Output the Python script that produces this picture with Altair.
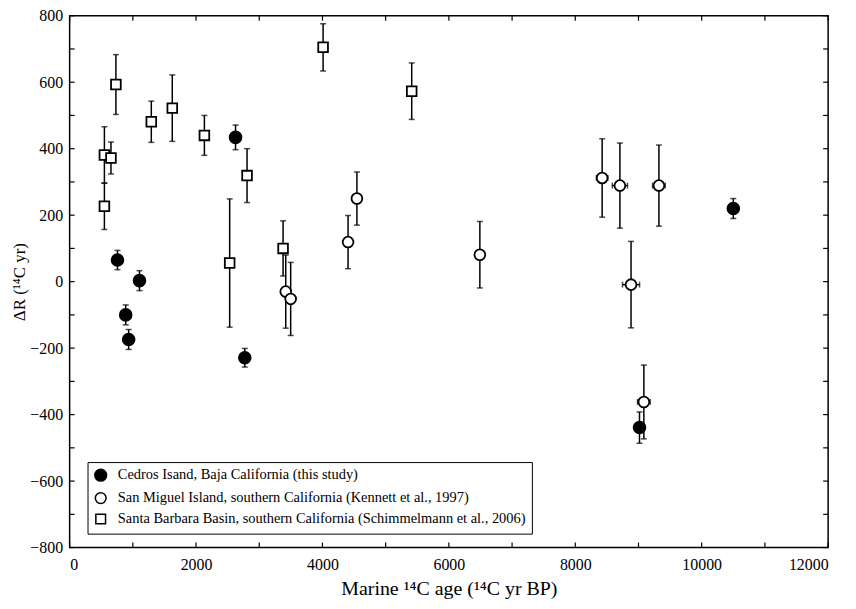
import altair as alt
import pandas as pd

# Cedros Island, Baja California (this study)
ced_x = [757, 1105, 887, 934, 2625, 2771, 9016, 10500]
ced_y = [65, 3, -100, -174, 434, -229, -439, 220]
ced_yerr = [29, 30, 30, 30, 37, 28, 47, 30]

# San Miguel Island, southern California (Kennett et al., 1997)
sm_x = [3419, 3497, 4405, 4545, 6490, 8425, 8706, 9323, 8882, 9085]
sm_y = [-30, -52, 119, 250, 81, 312, 289, 289, -9, -362]
sm_yerr = [110, 110, 80, 80, 100, 118, 128, 122, 130, 111]
sm_xerr = [0, 0, 0, 0, 0, 90, 120, 100, 135, 100]

# Santa Barbara Basin, southern California (Schimmelmann et al., 2006)
sb_x = [550, 654, 550, 732, 1292, 1624, 2132, 2807, 2532, 3377, 4010, 5412]
sb_y = [381, 372, 227, 593, 481, 522, 440, 319, 56, 100, 705, 573]
sb_yerr = [85, 48, 70, 90, 62, 100, 60, 81, 193, 83, 71, 85]

series_names = [
    "Cedros Isand, Baja California (this study)",
    "San Miguel Island, southern California (Kennett  et al., 1997)",
    "Santa Barbara Basin, southern California (Schimmelmann et al., 2006)",
]

x_ticks_major = [0, 2000, 4000, 6000, 8000, 10000, 12000]
x_ticks_minor = list(range(0, 12001, 1000))
y_ticks_major = [-800, -600, -400, -200, 0, 200, 400, 600, 800]
y_ticks_minor = list(range(-800, 801, 100))

rows = []
for xs, ys, ye, xe, name in [
    (ced_x, ced_y, ced_yerr, [0] * len(ced_x), series_names[0]),
    (sm_x, sm_y, sm_yerr, sm_xerr, series_names[1]),
    (sb_x, sb_y, sb_yerr, [0] * len(sb_x), series_names[2]),
]:
    for a, b, e, f in zip(xs, ys, ye, xe):
        rows.append({"series": name, "x": a, "y": b,
                     "lo": b - e, "hi": b + e, "xlo": a - f, "xhi": a + f, "xerr": f})
df = pd.DataFrame(rows)

W, H = 763, 535
FONT = "Liberation Serif"
xs_ = alt.Scale(domain=[0, 12000], nice=False, zero=False)
ys_ = alt.Scale(domain=[-800, 800], nice=False, zero=False)

base = alt.Chart(df)

ybar = base.mark_rule(color="black", strokeWidth=1.5).encode(
    x=alt.X("x:Q", scale=xs_,
            axis=alt.Axis(values=x_ticks_major, format="d", ticks=False, domain=False,
                          grid=False, labelPadding=9, titlePadding=6),
            title="Marine ¹⁴C age (¹⁴C yr BP)"),
    y=alt.Y("lo:Q", scale=ys_,
            axis=alt.Axis(values=y_ticks_major, format="d", ticks=False, domain=False,
                          grid=False, labelPadding=7, titlePadding=1),
            title="ΔR (¹⁴C yr)"),
    y2="hi:Q",
)
cap_lo = base.mark_tick(color="black", orient="horizontal", size=6, thickness=1.5).encode(
    x=alt.X("x:Q", scale=xs_), y=alt.Y("lo:Q", scale=ys_))
cap_hi = base.mark_tick(color="black", orient="horizontal", size=6, thickness=1.5).encode(
    x=alt.X("x:Q", scale=xs_), y=alt.Y("hi:Q", scale=ys_))

xb = base.transform_filter("datum.xerr > 0")
xbar = xb.mark_rule(color="black", strokeWidth=1.5).encode(
    x=alt.X("xlo:Q", scale=xs_), x2="xhi:Q", y=alt.Y("y:Q", scale=ys_))
xcap_lo = xb.mark_tick(color="black", orient="vertical", size=6, thickness=1.5).encode(
    x=alt.X("xlo:Q", scale=xs_), y=alt.Y("y:Q", scale=ys_))
xcap_hi = xb.mark_tick(color="black", orient="vertical", size=6, thickness=1.5).encode(
    x=alt.X("xhi:Q", scale=xs_), y=alt.Y("y:Q", scale=ys_))

leg = alt.Legend(title=None)
pts = base.mark_point(filled=True, strokeWidth=1.8, opacity=1).encode(
    x=alt.X("x:Q", scale=xs_),
    y=alt.Y("y:Q", scale=ys_),
    shape=alt.Shape("series:N", scale=alt.Scale(domain=series_names,
                                               range=["circle", "circle", "square"]),
                    legend=leg),
    fill=alt.Fill("series:N", scale=alt.Scale(domain=series_names,
                                             range=["black", "white", "white"]),
                  legend=leg),
    stroke=alt.Stroke("series:N", scale=alt.Scale(domain=series_names,
                                                 range=["black", "black", "black"]),
                      legend=leg),
    size=alt.Size("series:N", scale=alt.Scale(domain=series_names, range=[140, 95, 220]),
                  legend=leg),
)

xt = pd.DataFrame({"t": x_ticks_minor})
yt = pd.DataFrame({"t": y_ticks_minor})
tick_b = alt.Chart(xt).mark_rule(color="black", strokeWidth=1.2).encode(
    x=alt.X("t:Q", scale=xs_), y=alt.value(H), y2=alt.value(H - 5))
tick_t = alt.Chart(xt).mark_rule(color="black", strokeWidth=1.2).encode(
    x=alt.X("t:Q", scale=xs_), y=alt.value(0), y2=alt.value(5))
tick_l = alt.Chart(yt).mark_rule(color="black", strokeWidth=1.2).encode(
    y=alt.Y("t:Q", scale=ys_), x=alt.value(0), x2=alt.value(5))
tick_r = alt.Chart(yt).mark_rule(color="black", strokeWidth=1.2).encode(
    y=alt.Y("t:Q", scale=ys_), x=alt.value(W), x2=alt.value(W - 5))

chart = alt.layer(
    tick_b, tick_t, tick_l, tick_r,
    ybar, cap_lo, cap_hi, xbar, xcap_lo, xcap_hi, pts,
).properties(
    width=W, height=H,
    autosize=alt.AutoSizeParams(type="none"),
    padding={"left": 62, "top": 6, "right": 20, "bottom": 55},
).configure_view(
    stroke="black", strokeWidth=1.5,
).configure_axis(
    labelFont=FONT, labelFontSize=16, labelColor="black",
    titleFont=FONT, titleFontSize=20, titleFontWeight="normal", titleColor="black",
).configure_axisY(
    titleFontSize=17,
).configure_legend(
    orient="none", legendX=18, legendY=449,
    strokeColor="black", fillColor="white", padding=6,
    labelFont=FONT, labelFontSize=14.5, labelColor="black", labelLimit=600,
    labelOffset=10, symbolStrokeWidth=1.5, rowPadding=4,
)

chart.save("out.html", embed_options={"renderer": "svg", "actions": False})
